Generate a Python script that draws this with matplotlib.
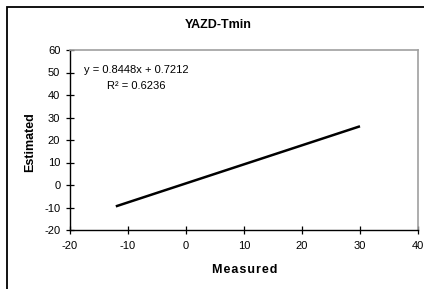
import matplotlib
matplotlib.use("Agg")
import matplotlib.pyplot as plt
from matplotlib.patches import Rectangle

plt.rcParams['font.family'] = ['Liberation Sans', 'DejaVu Sans']
plt.rcParams['axes.unicode_minus'] = False

# trend line end points
measured = [-12.1, 30.0]
estimated = [-9.5, 26.1]

xticks = [-20, -10, 0, 10, 20, 30, 40]
yticks = [-20, -10, 0, 10, 20, 30, 40, 50, 60]

title = "YAZD-Tmin"
equation = "y = 0.8448x + 0.7212\nR\u00b2 = 0.6236"

W, H = 424, 289
fig = plt.figure(figsize=(W / 100, H / 100), dpi=100)
fig.patch.set_facecolor('white')

# chart area border (only top and left edges visible)
fig.patches.append(Rectangle((7 / W, -0.5), 2, 1.5 - 7 / H, transform=fig.transFigure,
                             fill=False, edgecolor='black', linewidth=1.3))

ax = fig.add_axes([70 / W, 1 - 230 / H, 348 / W, 180 / H])
ax.plot(measured, estimated, color='black', linewidth=1.8, solid_capstyle='butt')

ax.set_xlim(-20, 40)
ax.set_ylim(-20, 60)
ax.set_xticks(xticks)
ax.set_yticks(yticks)
ax.tick_params(direction='inout', length=6, width=0.9, labelsize=8, color='black')
ax.tick_params(axis='x', pad=5)
ax.tick_params(axis='y', pad=4)

for s in ['top', 'right']:
    ax.spines[s].set_color('#a0a0a0')
    ax.spines[s].set_linewidth(1.2)
for s in ['left', 'bottom']:
    ax.spines[s].set_color('black')
    ax.spines[s].set_linewidth(1.0)

ax.text(0.19, 0.847, equation, transform=ax.transAxes, ha='center', va='center',
        multialignment='center', fontsize=8, linespacing=1.75)

fig.text(218.5 / W, 1 - 25.5 / H, title, ha='center', va='center', fontsize=9, fontweight='bold')
fig.text(30 / W, 1 - 142.5 / H, "Estimated", rotation=90, ha='center', va='center',
         fontsize=9, fontweight='bold')
fig.text(244.5 / W, 1 - 270 / H, "M e a s u r e d".replace(" ", "\u200a"), ha='center',
         va='center', fontsize=9, fontweight='bold')

fig.savefig("out.png", dpi=100)
